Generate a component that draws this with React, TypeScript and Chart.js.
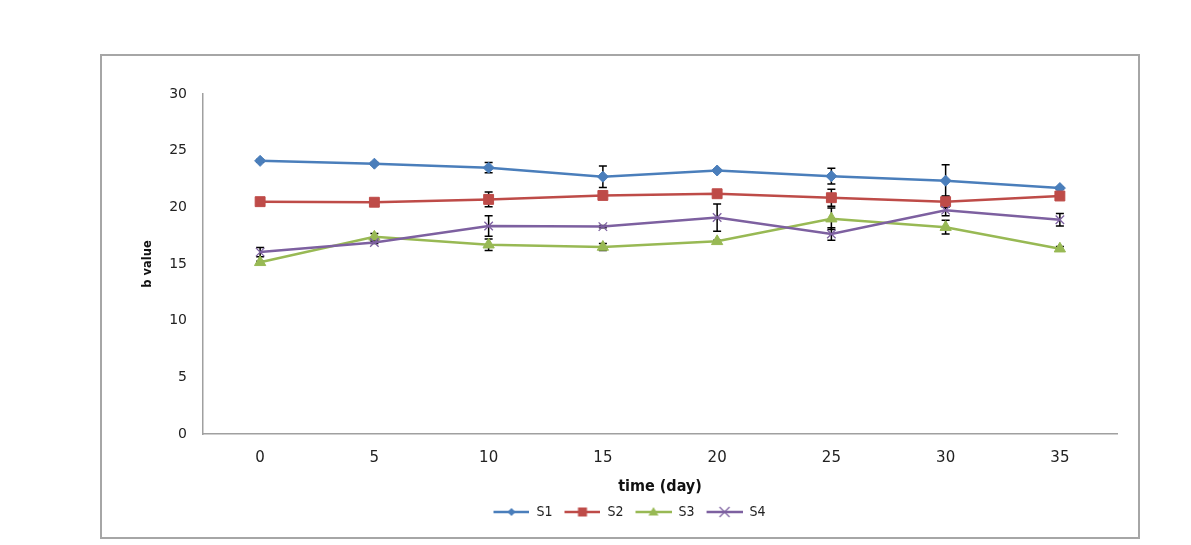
import React, { useEffect, useRef } from 'react';
import { Chart, registerables } from 'chart.js';

Chart.register(...registerables);

const days = ['0', '5', '10', '15', '20', '25', '30', '35'];
const seriesNames = ['S1', 'S2', 'S3', 'S4'];
const s1 = [24.1, 23.85, 23.5, 22.7, 23.25, 22.75, 22.35, 21.7];
const s2 = [20.5, 20.45, 20.7, 21.05, 21.2, 20.85, 20.5, 21.0];
const s3 = [15.15, 17.4, 16.7, 16.5, 17.0, 19.0, 18.25, 16.35];
const s4 = [16.05, 16.9, 18.35, 18.3, 19.1, 17.65, 19.75, 18.9];
const s1Err = [0.12, 0.1, 0.45, 0.95, 0.1, 0.7, 1.4, 0.1];
const s2Err = [0.1, 0.1, 0.65, 0.3, 0.1, 0.75, 0.5, 0.1];
const s3Err = [0.1, 0.3, 0.5, 0.3, 0.1, 0.95, 0.6, 0.2];
const s4Err = [0.4, 0.1, 0.9, 0.1, 1.2, 0.55, 0.5, 0.55];
const yMin = 0;
const yMax = 30;
const yStep = 5;

const seriesValues = [s1, s2, s3, s4];
const seriesErrors = [s1Err, s2Err, s3Err, s4Err];
const colors = ['#4A7EBB', '#BE4B48', '#98B954', '#7D60A0'];
const styles = ['rectRot', 'rect', 'triangle', 'crossRot'];
const radii = [5.5, 7, 6.5, 6];

function drawMarker(ctx: CanvasRenderingContext2D, style: string, x: number, y: number, r: number, color: string) {
  ctx.fillStyle = color;
  ctx.strokeStyle = color;
  ctx.beginPath();
  if (style === 'rectRot') {
    ctx.moveTo(x, y - r);
    ctx.lineTo(x + r, y);
    ctx.lineTo(x, y + r);
    ctx.lineTo(x - r, y);
    ctx.closePath();
    ctx.fill();
  } else if (style === 'rect') {
    ctx.rect(x - r, y - r, 2 * r, 2 * r);
    ctx.fill();
  } else if (style === 'triangle') {
    ctx.moveTo(x, y - r);
    ctx.lineTo(x + r, y + r * 0.7);
    ctx.lineTo(x - r, y + r * 0.7);
    ctx.closePath();
    ctx.fill();
  } else {
    ctx.lineWidth = 1.2;
    ctx.moveTo(x - r, y - r);
    ctx.lineTo(x + r, y + r);
    ctx.moveTo(x + r, y - r);
    ctx.lineTo(x - r, y + r);
    ctx.stroke();
  }
}

function makeLegendIcon(i: number): HTMLCanvasElement {
  const c = document.createElement('canvas');
  c.width = 40;
  c.height = 14;
  const ctx = c.getContext('2d') as CanvasRenderingContext2D;
  ctx.strokeStyle = colors[i];
  ctx.lineWidth = 2.5;
  ctx.beginPath();
  ctx.moveTo(4, 7);
  ctx.lineTo(40, 7);
  ctx.stroke();
  const r = [4, 4.5, 5, 5][i];
  drawMarker(ctx, styles[i], 22, 7, r, colors[i]);
  return c;
}

const errorBarPlugin = {
  id: 'errorBars',
  beforeDatasetsDraw(chart: any) {
    const ctx = chart.ctx;
    const yScale = chart.scales.y;
    ctx.save();
    ctx.strokeStyle = '#000';
    ctx.lineWidth = 1.5;
    chart.data.datasets.forEach((ds: any, i: number) => {
      const meta = chart.getDatasetMeta(i);
      const errs = seriesErrors[i];
      meta.data.forEach((pt: any, j: number) => {
        const v = ds.data[j];
        const e = errs[j];
        const top = yScale.getPixelForValue(v + e);
        const bot = yScale.getPixelForValue(v - e);
        ctx.beginPath();
        ctx.moveTo(pt.x, top);
        ctx.lineTo(pt.x, bot);
        ctx.moveTo(pt.x - 4, top);
        ctx.lineTo(pt.x + 4, top);
        ctx.moveTo(pt.x - 4, bot);
        ctx.lineTo(pt.x + 4, bot);
        ctx.stroke();
      });
    });
    ctx.restore();
  },
};

const framePlugin = {
  id: 'frame',
  beforeDraw(chart: any) {
    const ctx = chart.ctx;
    ctx.save();
    ctx.fillStyle = '#fff';
    ctx.fillRect(0, 0, chart.width, chart.height);
    ctx.strokeStyle = '#A6A6A6';
    ctx.lineWidth = 2;
    ctx.strokeRect(101, 55, 1038, 483);
    ctx.restore();
  },
};

export default function App() {
  const ref = useRef<HTMLCanvasElement | null>(null);

  useEffect(() => {
    if (!ref.current) return;
    const icons = seriesNames.map((_, i) => makeLegendIcon(i));
    const chart = new Chart(ref.current, {
      type: 'line',
      data: {
        labels: days,
        datasets: seriesNames.map((name, i) => ({
          label: name,
          data: seriesValues[i],
          borderColor: colors[i],
          backgroundColor: colors[i],
          borderWidth: 2.5,
          pointStyle: styles[i] as any,
          pointRadius: radii[i],
          pointHoverRadius: radii[i],
          pointBackgroundColor: colors[i],
          pointBorderColor: colors[i],
          pointBorderWidth: i === 3 ? 1.3 : 1,
          tension: 0,
          fill: false,
          order: 3 - i,
        })),
      },
      options: {
        animation: false,
        responsive: false,
        layout: { padding: { left: 138, top: 94, right: 74, bottom: 16 } },
        plugins: {
          tooltip: { enabled: false },
          legend: {
            position: 'bottom',
            labels: {
              usePointStyle: true,
              pointStyleWidth: 40,
              padding: 8,
              color: '#222',
              font: { family: '"DejaVu Sans Condensed", "DejaVu Sans"', size: 14 },
              generateLabels: () =>
                seriesNames.map((name, i) => ({
                  text: name,
                  fillStyle: colors[i],
                  strokeStyle: colors[i],
                  lineWidth: 0,
                  pointStyle: icons[i] as any,
                  hidden: false,
                  datasetIndex: i,
                  fontColor: '#222',
                })),
            },
          },
        },
        scales: {
          x: {
            type: 'category',
            offset: true,
            grid: { display: false, drawTicks: false },
            border: { display: true, color: '#A0A0A0', width: 1.5 },
            ticks: {
              color: '#222',
              padding: 15,
              maxRotation: 0,
              autoSkip: false,
              font: { family: '"DejaVu Sans"', size: 15 },
            },
            title: {
              display: true,
              text: 'time (day)',
              color: '#111',
              padding: { top: 13, bottom: 1 },
              font: { family: '"DejaVu Sans Condensed", "DejaVu Sans"', size: 16, weight: 'bold' },
            },
            afterFit: (scale: any) => {
              scale.height = 63;
            },
          },
          y: {
            min: yMin,
            max: yMax,
            grid: { display: false, drawTicks: false },
            border: { display: true, color: '#A0A0A0', width: 1.5 },
            ticks: {
              stepSize: yStep,
              color: '#222',
              padding: 16,
              font: { family: '"DejaVu Sans"', size: 14 },
            },
            title: {
              display: true,
              text: 'b value',
              color: '#111',
              padding: { top: 3, bottom: 0 },
              font: { family: '"DejaVu Sans"', size: 11.5, weight: 'bold' },
            },
            afterFit: (scale: any) => {
              scale.width = 65;
            },
          },
        },
      },
      plugins: [framePlugin, errorBarPlugin],
    });
    return () => chart.destroy();
  }, []);

  return (
    <div style={{ position: 'fixed', left: 0, top: 0, width: 1191, height: 545, background: '#fff' }}>
      <canvas ref={ref} width={1191} height={545} style={{ display: 'block' }} />
    </div>
  );
}
